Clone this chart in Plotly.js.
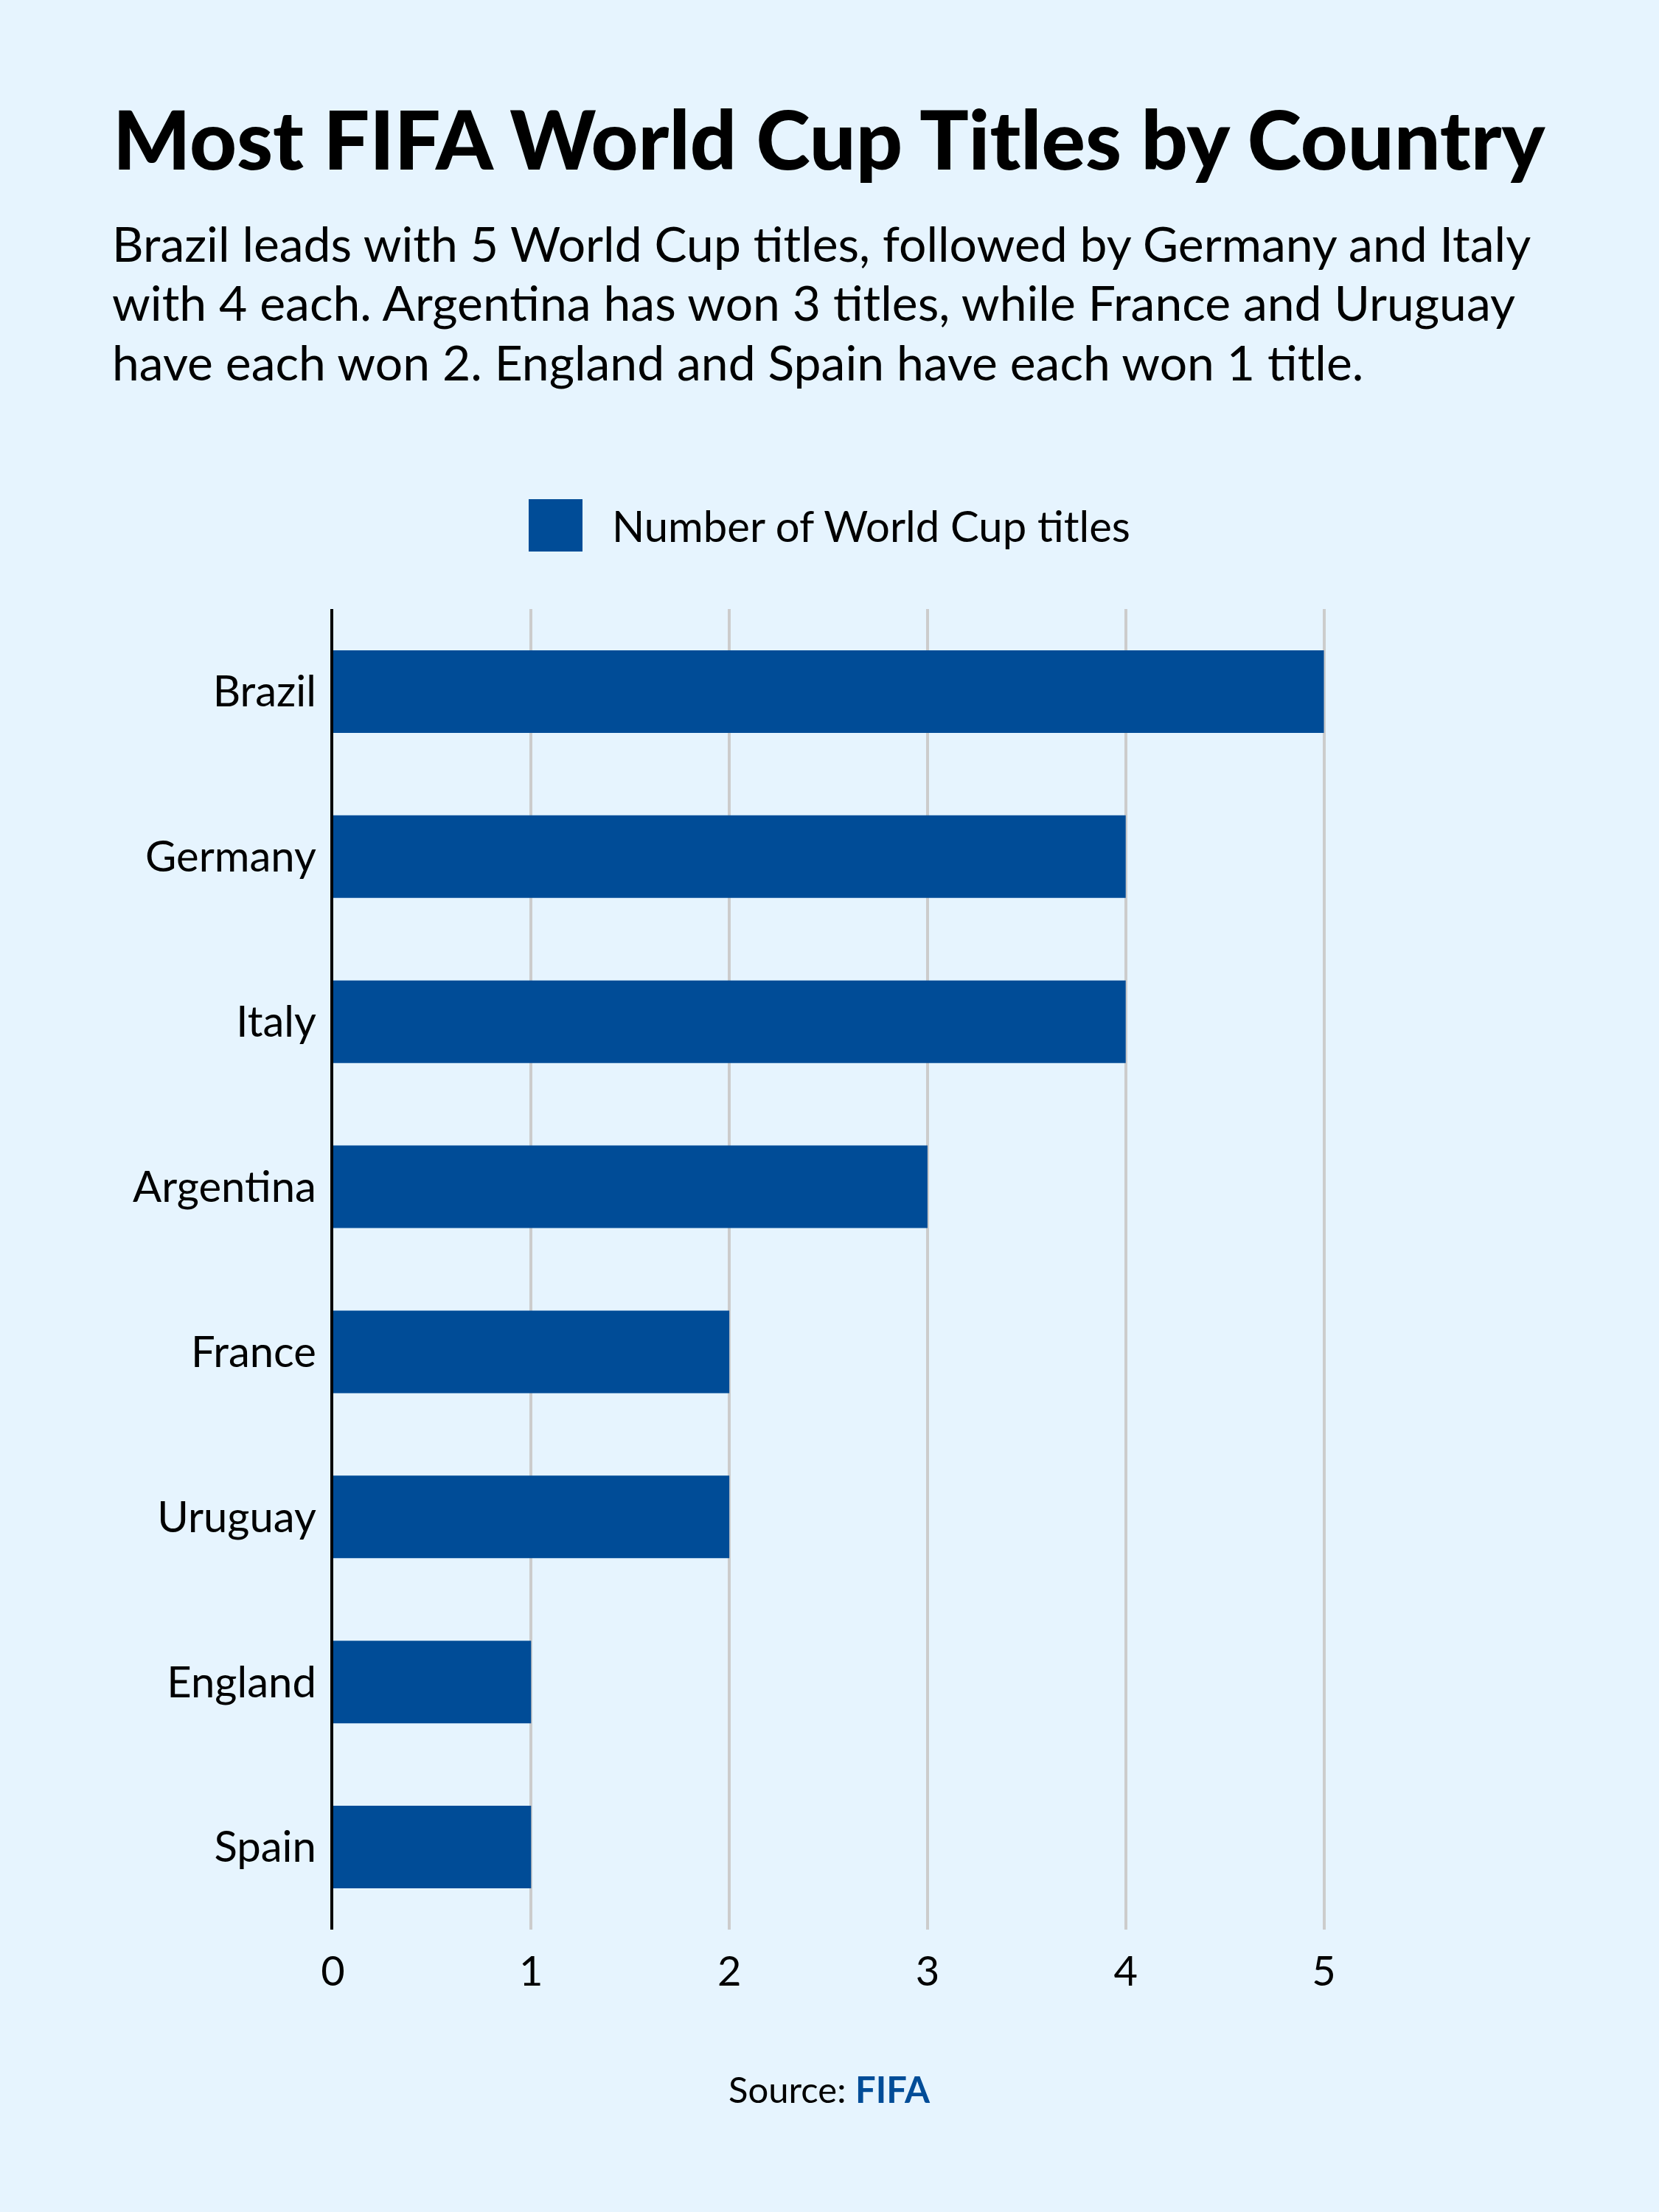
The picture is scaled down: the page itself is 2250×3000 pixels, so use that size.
<!DOCTYPE html>
<html>
<head>
<meta charset="utf-8">
<script src="https://cdn.plot.ly/plotly-3.0.1.min.js"></script>
<style>html,body{margin:0;padding:0;background:#E6F4FE;}#chart{width:2250px;height:3000px;}</style>
</head>
<body>
<div id="chart"></div>
<script>
const countries = ["Brazil", "Germany", "Italy", "Argentina", "France", "Uruguay", "England", "Spain"];
const titles = [5, 4, 4, 3, 2, 2, 1, 1];
const seriesName = "Number of World Cup titles";
const xTicks = [0, 1, 2, 3, 4, 5];
const subtitleLines = [
  "Brazil leads with 5 World Cup titles, followed by Germany and Italy",
  "with 4 each. Argentina has won 3 titles, while France and Uruguay",
  "have each won 2. England and Spain have each won 1 title."
];

const BG = "#E6F4FE";
const BAR = "#004C97";
const FONT = "Lato, 'Open Sans', sans-serif";

const trace = {
  type: "bar",
  orientation: "h",
  y: countries,
  x: titles,
  name: seriesName,
  marker: {color: BAR},
  width: 0.5,
  showlegend: false,
  hoverinfo: "x+y"
};

const subtitleAnns = subtitleLines.map((t, i) => ({
  text: t,
  xref: "paper", yref: "paper",
  x: 150/2250, y: 1 - (329 + i*80.5)/3000,
  xanchor: "left", yanchor: "middle", align: "left",
  showarrow: false,
  font: {family: FONT, size: 66, color: "#000000"}
}));

const layout = {
  width: 2250,
  height: 3000,
  paper_bgcolor: BG,
  plot_bgcolor: BG,
  margin: {l: 0, r: 0, t: 0, b: 0, pad: 0},
  font: {family: FONT, color: "#000000"},
  title: {
    text: "Most FIFA World Cup Titles by Country",
    font: {family: FONT, size: 111, weight: 900, color: "#000000"},
    x: 153/2250, xanchor: "left", xref: "paper",
    y: 1 - 191/3000, yanchor: "middle", yref: "container"
  },
  xaxis: {
    domain: [451.5/2250, 0.8004],
    range: [0, 5.02],
    tickvals: xTicks,
    ticktext: xTicks.map(String),
    showgrid: true,
    gridcolor: "#CCCCCC",
    gridwidth: 4,
    zeroline: false,
    showline: false,
    ticks: "outside",
    ticklen: 8,
    tickcolor: "rgba(0,0,0,0)",
    tickfont: {family: FONT, size: 56, color: "#000000"},
    fixedrange: true
  },
  yaxis: {
    domain: [1 - 2617/3000, 1 - 826/3000],
    range: [7.5, -0.5],
    type: "category",
    categoryorder: "array",
    categoryarray: countries,
    showgrid: false,
    zeroline: false,
    showline: true,
    linecolor: "#000000",
    linewidth: 4,
    ticks: "outside",
    ticklen: 7,
    tickcolor: "rgba(0,0,0,0)",
    tickfont: {family: FONT, size: 58, color: "#000000"},
    fixedrange: true
  },
  shapes: [
    {type: "rect", xref: "paper", yref: "paper",
     x0: 717/2250, x1: 790/2250, y0: 1 - 748/3000, y1: 1 - 677/3000,
     fillcolor: BAR, line: {width: 0}}
  ],
  annotations: subtitleAnns.concat([
    {
      text: seriesName,
      xref: "paper", yref: "paper",
      x: 828/2250, y: 1 - 712/3000,
      xanchor: "left", yanchor: "middle",
      showarrow: false,
      font: {family: FONT, size: 58, color: "#000000"}
    },
    {
      text: "Source: <b style='color:" + BAR + "'>FIFA</b>",
      xref: "paper", yref: "paper",
      x: 1125/2250, y: 1 - 2833/3000,
      xanchor: "center", yanchor: "middle",
      showarrow: false,
      font: {family: FONT, size: 49, color: "#000000"}
    }
  ])
};

Plotly.newPlot("chart", [trace], layout, {staticPlot: true, displayModeBar: false});
</script>
</body>
</html>
